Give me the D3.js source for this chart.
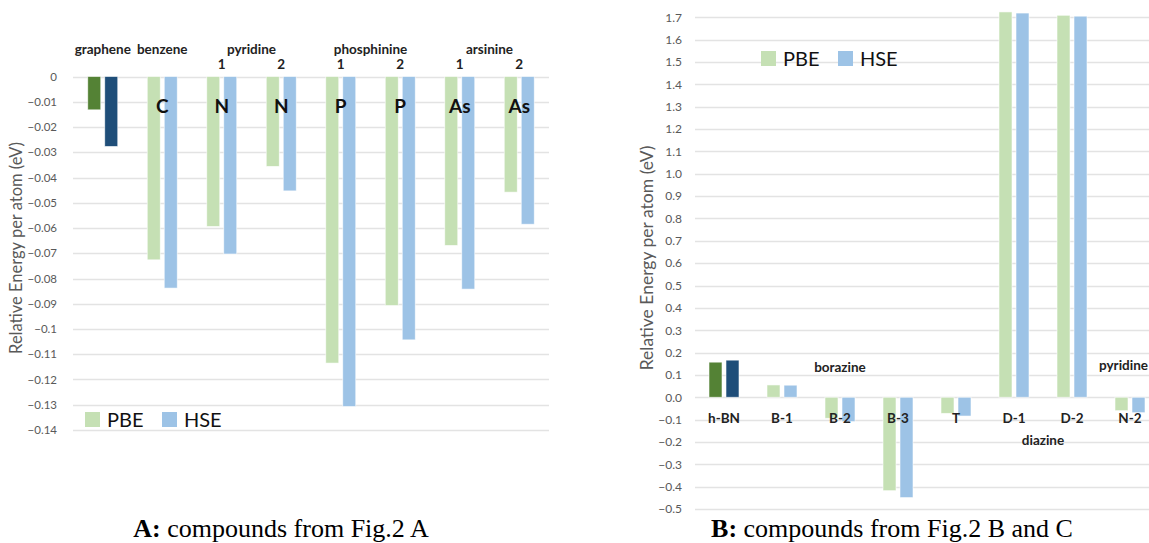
<!DOCTYPE html>
<html>
<head>
<meta charset="utf-8">
<script src="https://cdn.jsdelivr.net/npm/d3@7"></script>
<style>
  body { margin: 0; background: #fff; }
  svg { display: block; }
  .tick text { font-family: Lato, sans-serif; fill: #595959; }
</style>
</head>
<body>
<svg id="chart" width="1149" height="543"></svg>
<script>
// panel A data
const catsA = ["graphene", "benzene", "pyridine-1", "pyridine-2", "phosphinine-1", "phosphinine-2", "arsinine-1", "arsinine-2"];
const pbeA = [-0.0132, -0.0726, -0.0594, -0.0356, -0.1135, -0.0907, -0.0669, -0.0458];
const hseA = [-0.0277, -0.0838, -0.0703, -0.0453, -0.1307, -0.1043, -0.0842, -0.0585];
const atomsA = ["", "C", "N", "N", "P", "P", "As", "As"];
const indexA = ["", "", "1", "2", "1", "2", "1", "2"];
const familiesA = [["graphene", 0, 0], ["benzene", 1, 1], ["pyridine", 2, 3], ["phosphinine", 4, 5], ["arsinine", 6, 7]];
const ticksA = [0, -0.01, -0.02, -0.03, -0.04, -0.05, -0.06, -0.07, -0.08, -0.09, -0.1, -0.11, -0.12, -0.13, -0.14];

// panel B data
const catsB = ["h-BN", "B-1", "B-2", "B-3", "T", "D-1", "D-2", "N-2"];
const pbeB = [0.157, 0.055, -0.094, -0.418, -0.072, 1.724, 1.709, -0.060];
const hseB = [0.166, 0.054, -0.109, -0.449, -0.084, 1.719, 1.705, -0.069];
const familiesB = [["borazine", 1, 3], ["diazine", 5, 6]];
const ticksB = [1.7, 1.6, 1.5, 1.4, 1.3, 1.2, 1.1, 1.0, 0.9, 0.8, 0.7, 0.6, 0.5, 0.4, 0.3, 0.2, 0.1, 0.0, -0.1, -0.2, -0.3, -0.4, -0.5];

const series = ["PBE", "HSE"];
const light = { PBE: "#c5e0b4", HSE: "#9dc3e6" };
const dark = { PBE: "#548235", HSE: "#1f4e79" };

const svg = d3.select("#chart");
const sans = "Lato, sans-serif";

function panel(opt) {
  const g = svg.append("g");
  const x0 = d3.scaleBand().domain(opt.cats).range(opt.xr).padding(0);
  const groupW = 30;
  const x1 = d3.scaleBand().domain(series).range([0, groupW]).paddingInner(0.235);
  const y = d3.scaleLinear().domain(opt.dom).range(opt.yr);

  // gridlines + tick labels
  const axis = d3.axisLeft(y).tickValues(opt.ticks).tickSize(0).tickPadding(0).tickFormat(opt.fmt);
  const ax = g.append("g").attr("transform", `translate(${opt.xr[0] - opt.tickGap},0)`).call(axis);
  ax.select(".domain").remove();
  ax.selectAll("text").style("font-size", opt.tickSize + "px");
  g.append("g").selectAll("line").data(opt.ticks).join("line")
    .attr("x1", opt.xr[0]).attr("x2", opt.gridEnd)
    .attr("y1", d => Math.round(y(d)) + 0.5).attr("y2", d => Math.round(y(d)) + 0.5)
    .attr("stroke", "#e3e3e3").attr("stroke-width", 1.3);

  // bars
  const rows = opt.cats.map((c, i) => ({ c, i, PBE: opt.pbe[i], HSE: opt.hse[i] }));
  const grp = g.append("g").selectAll("g").data(rows).join("g")
    .attr("transform", d => `translate(${x0(d.c) + (x0.bandwidth() - groupW) / 2},0)`);
  grp.selectAll("rect").data(d => series.map(s => ({ s, v: d[s], i: d.i }))).join("rect")
    .attr("x", d => x1(d.s)).attr("width", x1.bandwidth())
    .attr("y", d => y(Math.max(0, d.v))).attr("height", d => Math.abs(y(d.v) - y(0)))
    .attr("fill", d => d.i === 0 ? dark[d.s] : light[d.s])
    .attr("stroke", "rgba(255,255,255,0.7)").attr("stroke-width", 0.8);

  // y title
  g.append("text")
    .attr("transform", `translate(${opt.titleX},${opt.titleY}) rotate(-90)`)
    .attr("text-anchor", "middle").attr("font-family", sans).attr("font-size", opt.titleSize)
    .attr("fill", "#595959").text("Relative Energy per atom (eV)");

  // legend
  const lg = g.append("g").attr("transform", `translate(${opt.legend[0]},${opt.legend[1]})`);
  series.forEach((s, k) => {
    lg.append("rect").attr("x", k * 77).attr("y", -15).attr("width", 15).attr("height", 15).attr("fill", light[s]);
    lg.append("text").attr("x", k * 77 + 22).attr("y", 0).attr("font-family", sans)
      .attr("font-size", 20).attr("fill", "#111").text(s);
  });
  return { g, x0, y };
}

// ---- Panel A ----
const A = panel({
  cats: catsA, pbe: pbeA, hse: hseA, xr: [73, 549], gridEnd: 549,
  dom: [0, -0.14], yr: [76.5, 430], ticks: ticksA, fmt: d => d3.format("")(+d.toFixed(2)),
  tickSize: 11.5, tickGap: 16, titleX: 22, titleY: 248, titleSize: 16.5, legend: [85, 427]
});
A.g.append("g").selectAll("text").data(familiesA).join("text")
  .attr("x", d => (A.x0(catsA[d[1]]) + A.x0(catsA[d[2]]) + A.x0.bandwidth()) / 2)
  .attr("y", 54).attr("text-anchor", "middle").attr("font-family", sans)
  .attr("font-weight", "bold").attr("font-size", 13.5).attr("fill", "#222").text(d => d[0]);
A.g.append("g").selectAll("text").data(catsA.filter((c, i) => indexA[i])).join("text")
  .attr("x", d => A.x0(d) + A.x0.bandwidth() / 2).attr("y", 69)
  .attr("text-anchor", "middle").attr("font-family", sans)
  .attr("font-weight", "bold").attr("font-size", 13.5).attr("fill", "#222")
  .text(d => indexA[catsA.indexOf(d)]);
A.g.append("g").selectAll("text").data(catsA.filter((c, i) => atomsA[i])).join("text")
  .attr("x", d => A.x0(d) + A.x0.bandwidth() / 2).attr("y", 113)
  .attr("text-anchor", "middle").attr("font-family", sans)
  .attr("font-weight", "bold").attr("font-size", 19).attr("fill", "#111")
  .text(d => atomsA[catsA.indexOf(d)]);

// ---- Panel B ----
const B = panel({
  cats: catsB, pbe: pbeB, hse: hseB, xr: [695, 1159], gridEnd: 1159,
  dom: [1.7, -0.5], yr: [17.3, 509], ticks: ticksB, fmt: d3.format(".1f"),
  tickSize: 12, tickGap: 13, titleX: 653, titleY: 258, titleSize: 17.5, legend: [761, 66]
});
B.g.append("g").selectAll("text").data(catsB).join("text")
  .attr("x", d => B.x0(d) + B.x0.bandwidth() / 2).attr("y", 423)
  .attr("text-anchor", "middle").attr("font-family", sans)
  .attr("font-weight", "bold").attr("font-size", 13.5).attr("fill", "#222").text(d => d);
B.g.append("g").selectAll("text").data(familiesB).join("text")
  .attr("x", d => (B.x0(catsB[d[1]]) + B.x0(catsB[d[2]]) + B.x0.bandwidth()) / 2)
  .attr("y", d => d[0] === "borazine" ? 372 : 445)
  .attr("text-anchor", "middle").attr("font-family", sans)
  .attr("font-weight", "bold").attr("font-size", 13.5).attr("fill", "#222").text(d => d[0]);
B.g.append("text").attr("x", 1099).attr("y", 370).attr("font-family", sans)
  .attr("font-weight", "bold").attr("font-size", 13.5).attr("fill", "#222").text("pyridine");

// captions
const captions = [["A:", " compounds from Fig.2 A", 281], ["B:", " compounds from Fig.2 B and C", 892]];
captions.forEach(c => {
  const t = svg.append("text").attr("x", c[2]).attr("y", 537).attr("text-anchor", "middle")
    .attr("font-family", "'Liberation Serif', serif").attr("font-size", 26).attr("fill", "#000");
  t.append("tspan").attr("font-weight", "bold").text(c[0]);
  t.append("tspan").text(c[1]);
});
</script>
</body>
</html>
